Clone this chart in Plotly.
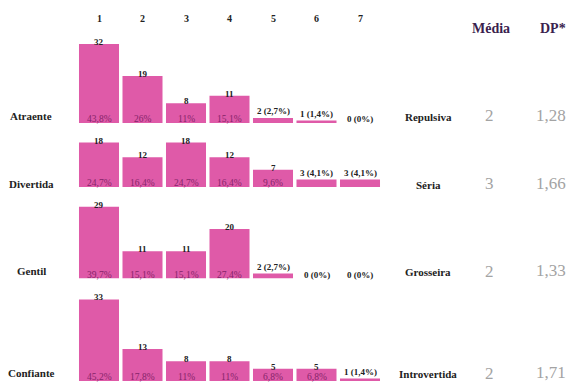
import plotly.graph_objects as go

# Semantic differential: answer counts on a 1-7 scale for each pair of adjectives
scale_points = [1, 2, 3, 4, 5, 6, 7]
left_labels = ["Atraente", "Divertida", "Gentil", "Confiante"]
right_labels = ["Repulsiva", "Séria", "Grosseira", "Introvertida"]

counts_atraente = [32, 19, 8, 11, 2, 1, 0]
counts_divertida = [18, 12, 18, 12, 7, 3, 3]
counts_gentil = [29, 11, 11, 20, 2, 0, 0]
counts_confiante = [33, 13, 8, 8, 5, 5, 1]

media_values = ["2", "3", "2", "2"]
dp_values = ["1,28", "1,66", "1,33", "1,71"]

rows = [counts_atraente, counts_divertida, counts_gentil, counts_confiante]

# ---- geometry (pixels) ----
W, H = 578, 383
PX_PER_UNIT = 2.47
baselines_px = [123, 187, 278.5, 381]
y_tops = [34, 20, 31, 35]
x_left_px, x_right_px = 77.25, 381.75

BAR = "#df5aa8"
PCT = "#86246a"
DARK = "#222222"
HEAD = "#3b1f4f"
GREY = "#a3a3a3"
SERIF = "'Liberation Serif', 'Times New Roman', Times, serif"


def py(px):
    return 1 - px / H


def px_x(px):
    return px / W


def pct_text(v, n):
    s = f"{round(100 * v / n, 1):.1f}".rstrip("0").rstrip(".")
    return s.replace(".", ",") + "%"


fig = go.Figure()
annotations = []
layout_axes = {}

for i, counts in enumerate(rows):
    k = "" if i == 0 else str(i + 1)
    xa, ya = "x" + k, "y" + k
    n = sum(counts)
    fig.add_trace(go.Bar(
        x=scale_points, y=counts, xaxis=xa, yaxis=ya,
        marker=dict(color=BAR, line=dict(width=0)),
        hoverinfo="skip", showlegend=False,
    ))
    base = baselines_px[i]
    top = base - y_tops[i] * PX_PER_UNIT
    layout_axes["xaxis" + k] = dict(domain=[px_x(x_left_px), px_x(x_right_px)],
                                    range=[0.5, 7.5], visible=False, anchor=ya)
    layout_axes["yaxis" + k] = dict(domain=[py(base), py(top)],
                                    range=[0, y_tops[i]], visible=False, anchor=xa)

    for x, v in zip(scale_points, counts):
        pct = pct_text(v, n)
        if v >= 5:
            annotations.append(dict(x=x, y=v, xref=xa, yref=ya, text=f"<b>{v}</b>",
                                    showarrow=False, yanchor="middle", yshift=2,
                                    font=dict(family=SERIF, size=9, color=DARK)))
            annotations.append(dict(x=x, y=0, xref=xa, yref=ya, text=pct,
                                    showarrow=False, yanchor="middle", yshift=4,
                                    font=dict(family=SERIF, size=9.5, color=PCT)))
        else:
            annotations.append(dict(x=x, y=v, xref=xa, yref=ya,
                                    text=f"<b>{v} ({pct})</b>",
                                    showarrow=False, yanchor="middle",
                                    yshift=7 if v > 0 else 4,
                                    font=dict(family=SERIF, size=9, color=DARK)))

    # adjective pair and summary statistics
    label_y = [116, 184, 271, 373][i]
    annotations.append(dict(x=px_x(31), y=py(label_y), xref="paper", yref="paper",
                            text=f"<b>{left_labels[i]}</b>", showarrow=False,
                            xanchor="center", yanchor="middle",
                            font=dict(family=SERIF, size=11, color=DARK)))
    annotations.append(dict(x=px_x(428), y=py(label_y + 1), xref="paper", yref="paper",
                            text=f"<b>{right_labels[i]}</b>", showarrow=False,
                            xanchor="center", yanchor="middle",
                            font=dict(family=SERIF, size=11, color=DARK)))
    annotations.append(dict(x=px_x(489), y=py(label_y), xref="paper", yref="paper",
                            text=media_values[i], showarrow=False,
                            xanchor="center", yanchor="middle",
                            font=dict(family=SERIF, size=17, color=GREY)))
    annotations.append(dict(x=px_x(551), y=py(label_y - 1), xref="paper", yref="paper",
                            text=dp_values[i], showarrow=False,
                            xanchor="center", yanchor="middle",
                            font=dict(family=SERIF, size=17, color=GREY)))

# scale point headers
for x in scale_points:
    annotations.append(dict(x=x, y=py(18), xref="x", yref="paper", text=f"<b>{x}</b>",
                            showarrow=False, yanchor="middle",
                            font=dict(family=SERIF, size=10, color=DARK)))

annotations.append(dict(x=px_x(491), y=py(28), xref="paper", yref="paper",
                        text="<b>Média</b>", showarrow=False, xanchor="center",
                        yanchor="middle", font=dict(family=SERIF, size=14, color=HEAD)))
annotations.append(dict(x=px_x(553), y=py(28), xref="paper", yref="paper",
                        text="<b>DP*</b>", showarrow=False, xanchor="center",
                        yanchor="middle", font=dict(family=SERIF, size=14, color=HEAD)))

fig.update_layout(
    width=W, height=H, margin=dict(l=0, r=0, t=0, b=0),
    paper_bgcolor="white", plot_bgcolor="rgba(0,0,0,0)",
    font=dict(family=SERIF),
    bargap=0.08, annotations=annotations, **layout_axes,
)

fig.write_html("out.html")
